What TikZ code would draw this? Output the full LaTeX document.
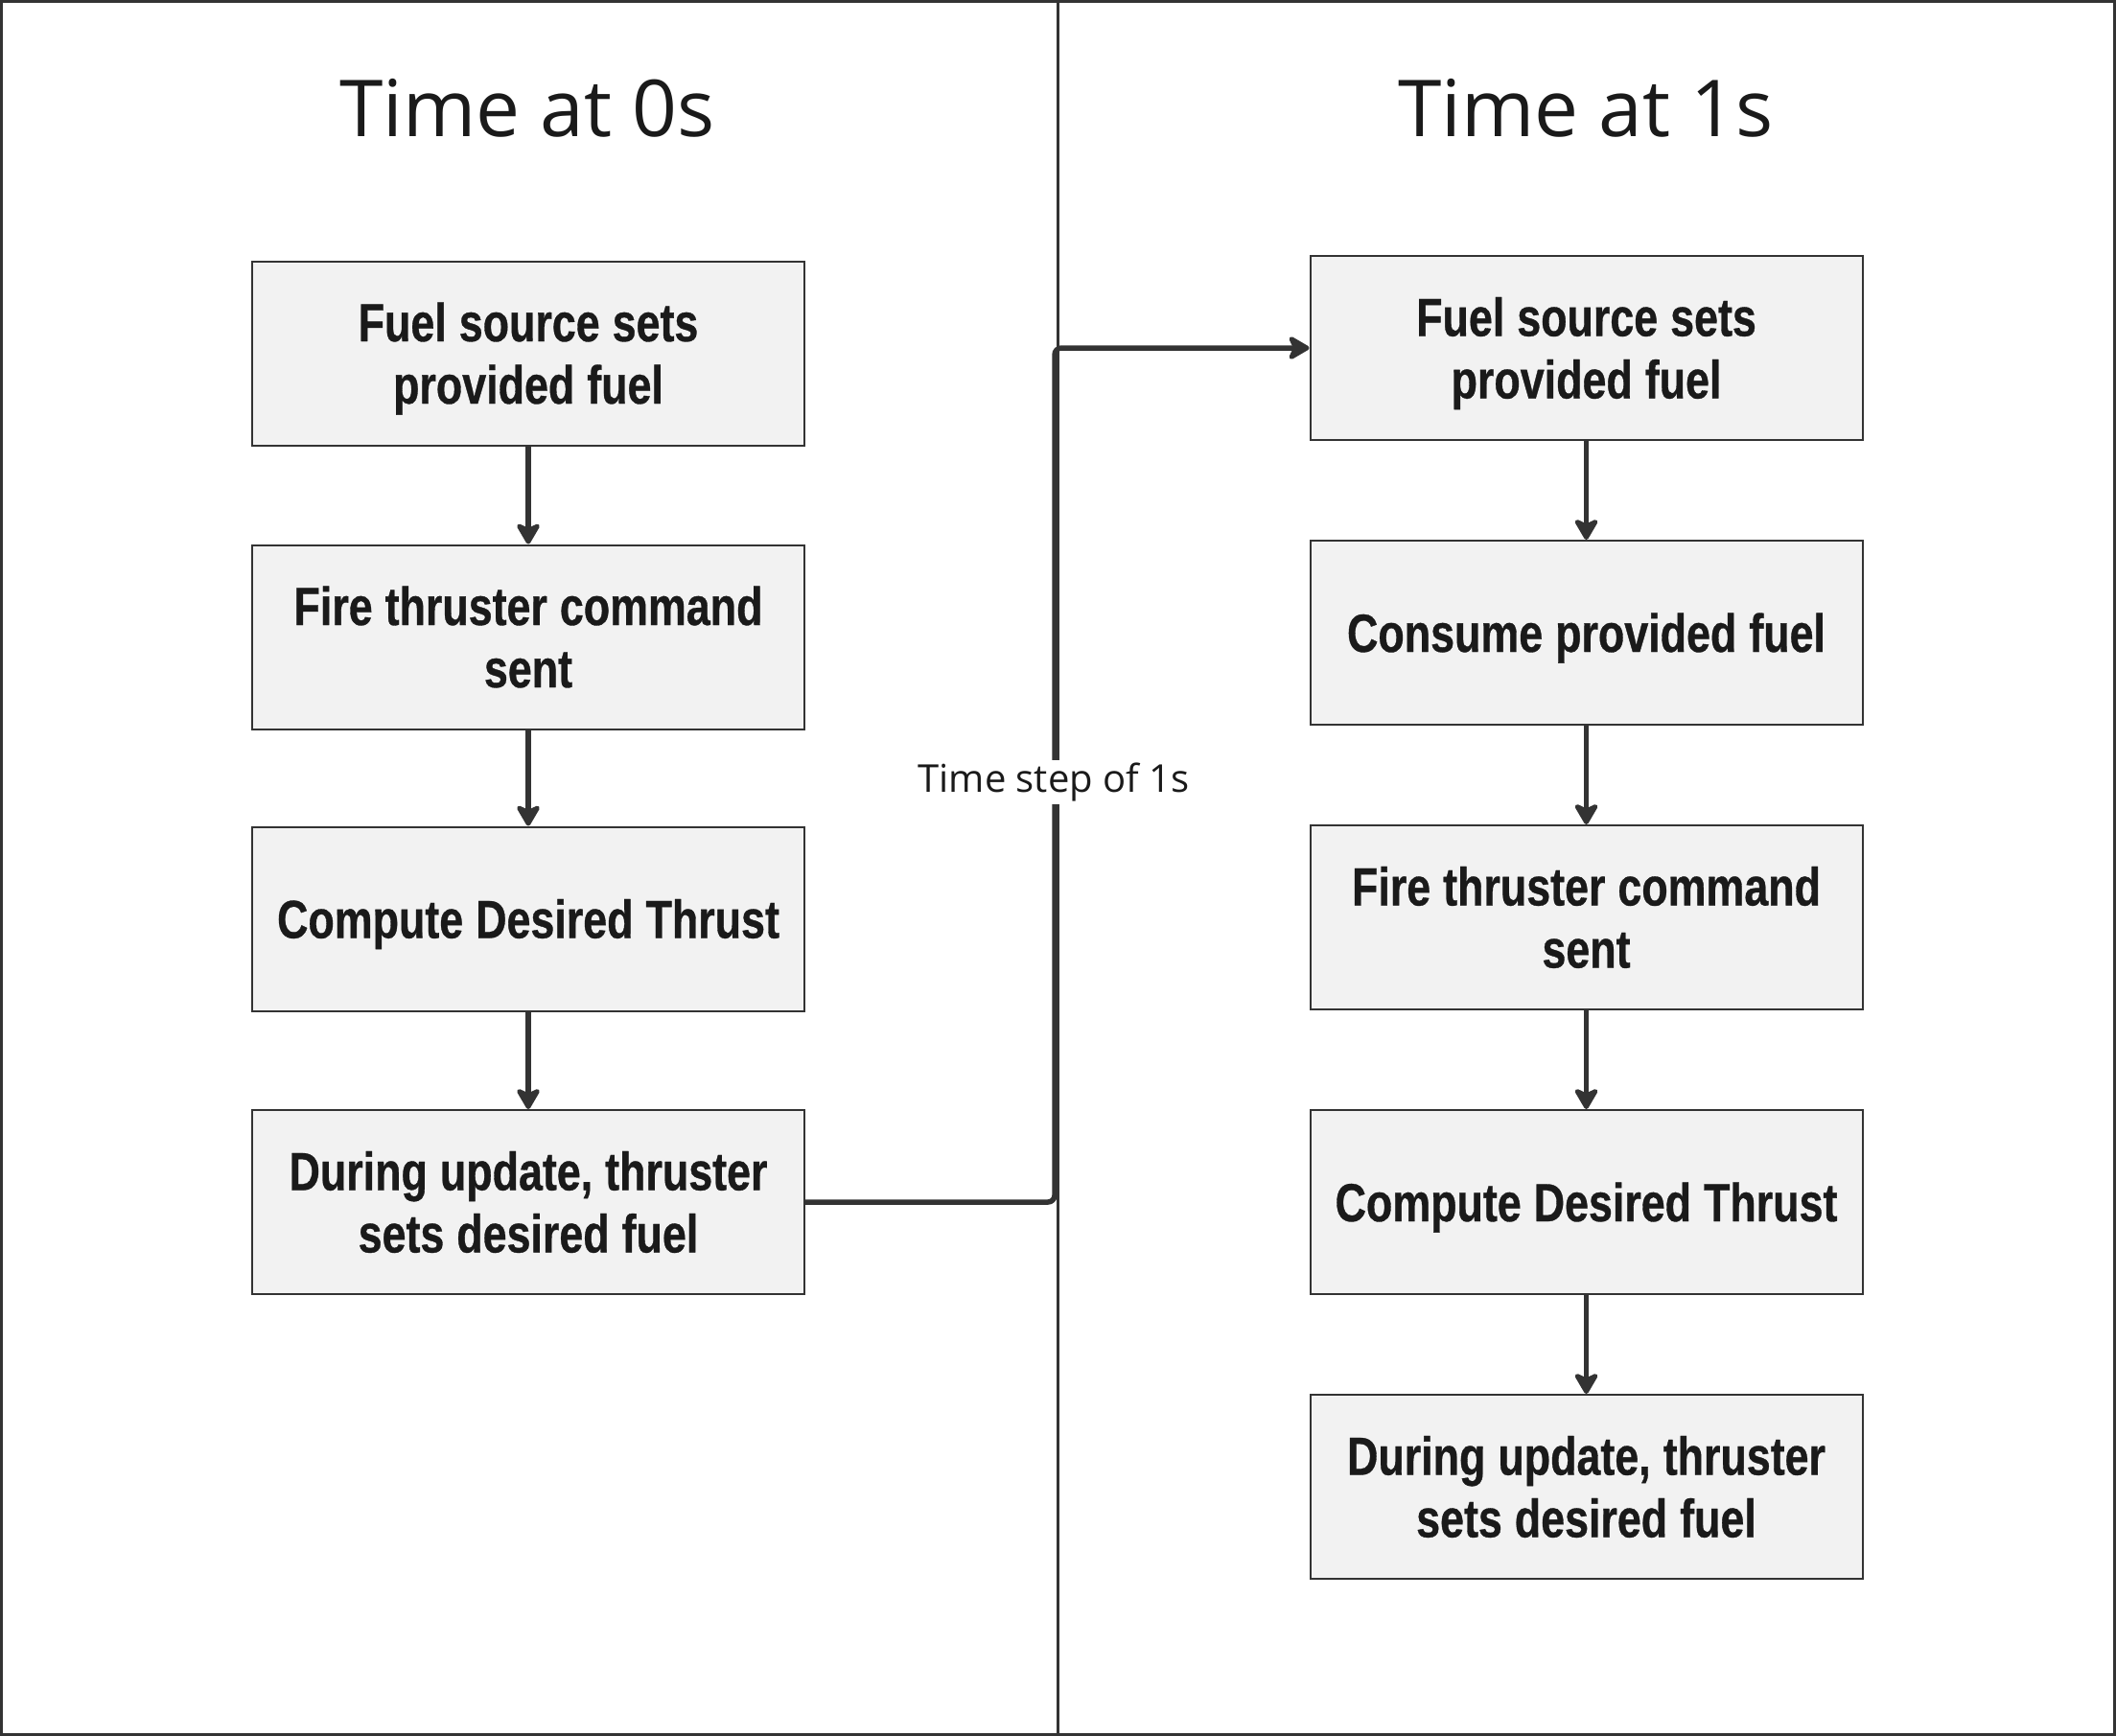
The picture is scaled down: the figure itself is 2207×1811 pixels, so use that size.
\documentclass[tikz,border=0pt]{standalone}
\usepackage{fontspec}
\setmainfont{Open Sans}
\newfontfamily\boxfont[FakeStretch=0.8, FakeBold=0.6]{Liberation Sans}
\usetikzlibrary{arrows.meta}
\definecolor{linec}{HTML}{333333}
\definecolor{boxfill}{HTML}{F2F2F2}
\definecolor{textc}{HTML}{1A1A1A}
\newcommand{\boxstart}{\spaceskip=13pt\relax\xspaceskip=13pt\relax\rule{0pt}{53pt}}
\newcommand{\boxend}{\rule[-13pt]{0pt}{13pt}}
\tikzset{
  stepbox/.style={draw=linec, line width=2pt, fill=boxfill, rectangle,
    minimum width=576pt, minimum height=192pt, align=center, text width=560pt,
    inner sep=0pt, text=textc,
    execute at begin node={\boxstart},
    execute at end node={\boxend},
    font=\boxfont\bfseries\fontsize{56}{65}\selectfont},
  title/.style={text=textc, font=\fontsize{82}{90}\selectfont, inner sep=0pt},
  arr/.style={draw=linec, line width=5.5pt,
    -{Stealth[length=26pt, width=30pt, inset=7pt, round]}},
  conn/.style={draw=linec, line width=5.5pt, rounded corners=7pt,
    -{Stealth[length=26pt, width=30pt, inset=7pt, round]}},
  lbl/.style={fill=white, text=textc, font=\fontsize{40}{44}\selectfont, inner sep=3pt}
}
\begin{document}
\begin{tikzpicture}[x=1pt, y=-1pt]
\useasboundingbox (0,0) rectangle (2207,1811);
\draw[linec, line width=3pt] (1.5,1.5) rectangle (2205.5,1809.5);
\draw[linec, line width=3pt] (1103,0) -- (1103,1811);

\node[title] (t0) at (550,113) {Time at 0s};
\node[title] (t1) at (1654,113) {Time at 1s};

\node[stepbox] (L1) at (551,368.5) {Fuel source sets\\provided fuel};
\node[stepbox] (L2) at (551,664.5) {Fire thruster command\\sent};
\node[stepbox] (L3) at (551,958.5) {Compute Desired Thrust};
\node[stepbox] (L4) at (551,1254) {During update, thruster\\sets desired fuel};

\node[stepbox] (R1) at (1654.5,363) {Fuel source sets\\provided fuel};
\node[stepbox] (R2) at (1654.5,660) {Consume provided fuel};
\node[stepbox] (R3) at (1654.5,957) {Fire thruster command\\sent};
\node[stepbox] (R4) at (1654.5,1254) {Compute Desired Thrust};
\node[stepbox] (R5) at (1654.5,1551) {During update, thruster\\sets desired fuel};

\draw[arr] (L1) -- (L2);
\draw[arr] (L2) -- (L3);
\draw[arr] (L3) -- (L4);
\draw[arr] (R1) -- (R2);
\draw[arr] (R2) -- (R3);
\draw[arr] (R3) -- (R4);
\draw[arr] (R4) -- (R5);

\draw[conn] (L4.east) -- ++(260,0) |- (R1.west);
\node[lbl] (ts) at (1099,816) {Time step of 1s};
\end{tikzpicture}
\end{document}
